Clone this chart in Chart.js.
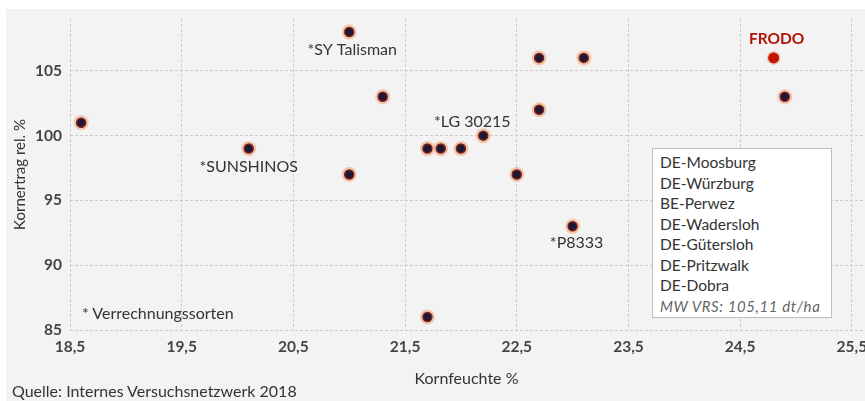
<!DOCTYPE html>
<html>
<head>
<meta charset="utf-8">
<script src="https://cdn.jsdelivr.net/npm/chart.js"></script>
<style>
  body { margin: 0; background: #fff; font-family: Lato, "Open Sans", sans-serif; }
  #wrap { position: relative; width: 865px; height: 401px; overflow: hidden; }
  #chart { position: absolute; left: 0; top: 0; }
  .note { position: absolute; color: #333; white-space: nowrap; font-size: 16px; }
  #legendBox {
    position: absolute; left: 652px; top: 148px; width: 171px; height: 162px;
    background: #fff; border: 1px solid #bdbdbd; padding: 3px 0 3px 7px;
    font-size: 15.5px; line-height: 20.5px; color: #333;
  }
  #legendBox .mw { font-style: italic; font-size: 15px; letter-spacing: 0.6px; color: #666; }
</style>
</head>
<body>
<div id="wrap">
  <canvas id="chart" width="900" height="401"></canvas>
  <div id="legendBox"></div>
  <div class="note" style="left:82px; top:303px;">* Verrechnungssorten</div>
  <div class="note" style="left:12px; top:381px;">Quelle: Internes Versuchsnetzwerk 2018</div>
</div>
<script>
// Kornfeuchte (%) vs. Kornertrag rel. (%)
const moisture = [18.6, 20.1, 21.0, 21.3, 22.7, 23.1, 22.7, 22.2, 21.7, 21.82, 22.0, 21.0, 22.5, 23.0, 21.7, 24.9];
const yieldRel = [101, 99, 108, 103, 106, 106, 102, 100, 99, 99, 99, 97, 97, 93, 86, 103];
const pointNames = ['', '*SUNSHINOS', '*SY Talisman', '', '', '', '', '*LG 30215', '', '', '', '', '', '*P8333', '', ''];

const frodoMoisture = [24.8];
const frodoYield = [106];
const frodoName = ['FRODO'];

const xTicks = [18.5, 19.5, 20.5, 21.5, 22.5, 23.5, 24.5, 25.5];
const yTicks = [85, 90, 95, 100, 105];

const locations = ['DE-Moosburg', 'DE-Würzburg', 'BE-Perwez', 'DE-Wadersloh', 'DE-Gütersloh', 'DE-Pritzwalk', 'DE-Dobra'];
const meanNote = 'MW VRS: 105,11 dt/ha';

// legend box (plain text)
const box = document.getElementById('legendBox');
locations.forEach(l => {
    const d = document.createElement('div');
    d.textContent = l;
    box.appendChild(d);
});
const mw = document.createElement('div');
mw.className = 'mw';
mw.textContent = meanNote;
box.appendChild(mw);

const pts = moisture.map((x, i) => ({ x: x, y: yieldRel[i] }));
const frodoPts = frodoMoisture.map((x, i) => ({ x: x, y: frodoYield[i] }));

// label offsets relative to the point (px)
const labelOffset = {
    '*SUNSHINOS': [0, 18],
    '*SY Talisman': [3, 18],
    '*LG 30215': [-11, -14],
    '*P8333': [4, 17],
    'FRODO': [3, -19]
};

const background = {
    id: 'background',
    beforeDraw(chart) {
        const c = chart.ctx;
        c.save();
        c.fillStyle = '#f3f3f3';
        c.fillRect(6, 9, chart.width, chart.height);
        c.restore();
    }
};

const pointLabels = {
    id: 'pointLabels',
    afterDatasetsDraw(chart) {
        const c = chart.ctx;
        const xs = chart.scales.x, ys = chart.scales.y;
        c.save();
        c.textAlign = 'center';
        c.textBaseline = 'middle';
        c.font = '16px Lato';
        c.fillStyle = '#333';
        pts.forEach((p, i) => {
            const name = pointNames[i];
            if (!name) return;
            const off = labelOffset[name] || [0, 16];
            c.fillText(name, xs.getPixelForValue(p.x) + off[0], ys.getPixelForValue(p.y) + off[1]);
        });
        c.font = 'bold 15.5px Lato';
        c.fillStyle = '#b3100a';
        frodoPts.forEach((p, i) => {
            const off = labelOffset[frodoName[i]];
            c.fillText(frodoName[i], xs.getPixelForValue(p.x) + off[0], ys.getPixelForValue(p.y) + off[1]);
        });
        c.restore();
    }
};

// lower dataset index is drawn on top, so the glows go last
new Chart(document.getElementById('chart'), {
    type: 'scatter',
    data: {
        datasets: [
            {
                data: pts,
                pointRadius: 4.5,
                pointHoverRadius: 4.5,
                backgroundColor: '#1d1836',
                borderColor: '#7e2019',
                borderWidth: 1.5
            },
            {
                data: frodoPts,
                pointRadius: 5.5,
                pointHoverRadius: 5.5,
                backgroundColor: '#c41400',
                borderWidth: 0
            },
            {
                // soft glow behind the points
                data: pts,
                pointRadius: 7.5,
                pointHoverRadius: 7.5,
                backgroundColor: 'rgba(240,160,115,0.55)',
                borderWidth: 0
            },
            {
                data: frodoPts,
                pointRadius: 7,
                pointHoverRadius: 7,
                backgroundColor: 'rgba(235,120,90,0.35)',
                borderWidth: 0
            }
        ]
    },
    options: {
        responsive: false,
        animation: false,
        layout: { padding: { top: 19, right: 37, bottom: 10, left: 0 } },
        plugins: {
            legend: { display: false },
            tooltip: { enabled: false }
        },
        scales: {
            x: {
                type: 'linear',
                min: 18.5,
                max: 25.6,
                afterBuildTicks: s => { s.ticks = xTicks.map(v => ({ value: v })); },
                afterFit: s => { s.height = 61; },
                grid: { color: '#cccccc', drawTicks: false },
                border: { display: false, dash: [3, 2] },
                ticks: {
                    padding: 8,
                    color: '#444',
                    font: { family: 'Lato', size: 15.5, weight: 'bold' },
                    callback: v => v.toFixed(1).replace('.', ',')
                },
                title: {
                    display: true,
                    text: 'Kornfeuchte %',
                    color: '#333',
                    padding: { top: 4, bottom: 3 },
                    font: { family: 'Lato', size: 16 }
                }
            },
            y: {
                min: 85,
                max: 109,
                afterBuildTicks: s => { s.ticks = yTicks.map(v => ({ value: v })); },
                afterFit: s => { s.width = 70; },
                grid: { color: '#cccccc', drawTicks: false },
                border: { display: false, dash: [3, 2] },
                ticks: {
                    padding: 8,
                    color: '#444',
                    font: { family: 'Lato', size: 15.5, weight: 'bold' }
                },
                title: {
                    display: true,
                    text: 'Kornertrag rel. %',
                    color: '#333',
                    padding: { top: 11, bottom: 4 },
                    font: { family: 'Lato', size: 15 }
                }
            }
        }
    },
    plugins: [background, pointLabels]
});
</script>
</body>
</html>
